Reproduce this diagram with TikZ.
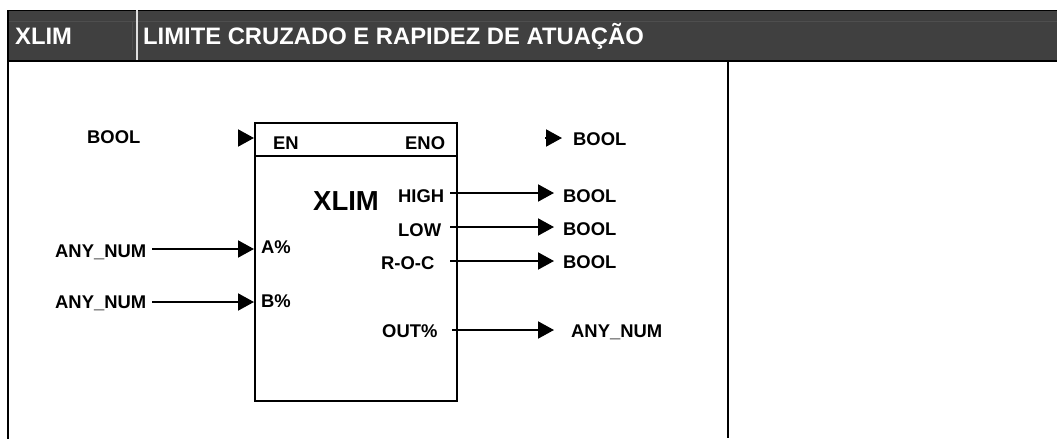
\documentclass[tikz,border=0pt]{standalone}
\usepackage{fontspec}
\setmainfont{Liberation Sans}
\usetikzlibrary{arrows.meta}
\definecolor{hdr}{HTML}{404040}
\definecolor{hdrline}{HTML}{4E4E4E}
\definecolor{hdrsep}{HTML}{E0E0E0}
\begin{document}
\begin{tikzpicture}[x=1pt,y=-1pt,
  lbl/.style={anchor=base west,inner sep=0pt,font=\fontsize{18.4}{20}\selectfont\bfseries},
  biglbl/.style={anchor=base west,inner sep=0pt,font=\fontsize{27.5}{30}\selectfont\bfseries},
  hlbl/.style={anchor=base west,inner sep=0pt,text=white,font=\fontsize{23.8}{26}\selectfont\bfseries},
  arr/.style={line width=2pt,-{Triangle[length=16pt,width=17pt]}},
  frame/.style={line width=2pt}]
\useasboundingbox (0,0) rectangle (1057,439);
% header
\fill[hdr] (7,10) rectangle (1057,61);
\draw[line width=0.8pt] (7,10) -- (1057,10);
\draw[hdrline,line width=0.8pt] (8,21) -- (1057,21);
\draw[hdrline,line width=0.8pt] (132,21) -- (132,50);
\draw[hdrsep,line width=1.2pt] (137,10) -- (137,60);
\draw[line width=2.2pt] (7,61) -- (1057,61);
\node[hlbl] (hx) at (15,44) {XLIM};
\node[hlbl] (ht) at (143,44) {LIMITE CRUZADO E RAPIDEZ DE ATUAÇÃO};
% frame lines
\draw[frame] (8,10) -- (8,439);
\draw[frame] (728,61) -- (728,438);
% block
\node[draw,line width=2pt,minimum width=202pt,minimum height=278pt,inner sep=0pt] (blk) at (356,262) {};
\coordinate (enl) at (0,156);
\draw[frame] (blk.west |- enl) -- (blk.east |- enl);
% labels in block
\node[lbl] (en) at (273,149) {EN};
\node[lbl] (eno) at (405,149) {ENO};
\node[biglbl] (title) at (313,210) {XLIM};
\node[lbl] (high) at (398,202) {HIGH};
\node[lbl] (low) at (398,236) {LOW};
\node[lbl] (roc) at (381,269) {R-O-C};
\node[lbl] (ain) at (261,253) {A\%};
\node[lbl] (bin) at (261,307) {B\%};
\node[lbl] (out) at (382,337) {OUT\%};
% outside labels
\node[lbl] (boolin) at (87,143) {BOOL};
\node[lbl] (anya) at (55,257) {ANY\_NUM};
\node[lbl] (anyb) at (55,308) {ANY\_NUM};
\node[lbl] (booleno) at (573,145) {BOOL};
\node[lbl] (boolh) at (563,202) {BOOL};
\node[lbl] (booll) at (563,235) {BOOL};
\node[lbl] (boolr) at (563,268) {BOOL};
\node[lbl] (anyo) at (571,337) {ANY\_NUM};
% connectors
\coordinate (enS) at (238,138);
\draw[arr] (enS) -- (blk.west |- enS);
\coordinate (enoS) at (545,138);
\coordinate (enoE) at (562,138);
\draw[arr] (enoS) -- (enoE);
\coordinate (aS) at (152,249);
\draw[arr] (aS) -- (blk.west |- aS);
\coordinate (bS) at (152,302);
\draw[arr] (bS) -- (blk.west |- bS);
\coordinate (hS) at (450,193);
\coordinate (hE) at (554,193);
\draw[arr] (hS) -- (hE);
\coordinate (lS) at (450,227);
\coordinate (lE) at (554,227);
\draw[arr] (lS) -- (lE);
\coordinate (rS) at (450,261);
\coordinate (rE) at (554,261);
\draw[arr] (rS) -- (rE);
\coordinate (oS) at (452,330);
\coordinate (oE) at (554,330);
\draw[arr] (oS) -- (oE);
\end{tikzpicture}
\end{document}
